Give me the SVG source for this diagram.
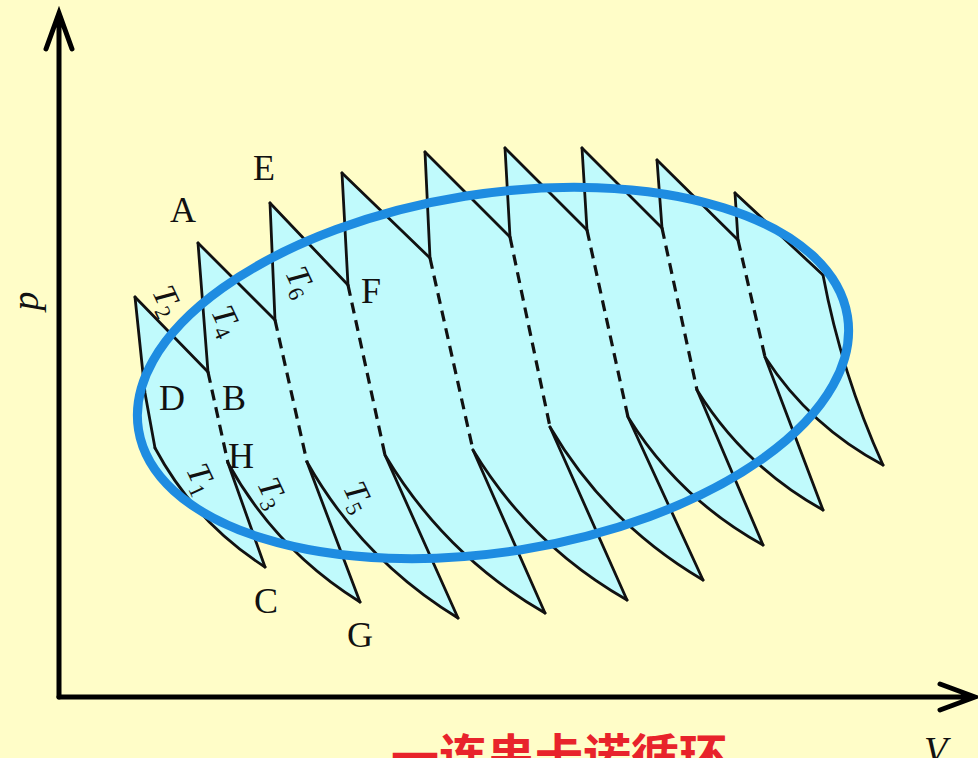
<svg xmlns="http://www.w3.org/2000/svg" width="978" height="758" viewBox="0 0 978 758">
<defs>
<style>
.bg{fill:#fffdc8}
.fill{fill:#c0fafc;stroke:none}
.ln{fill:none;stroke:#111;stroke-width:2.8;stroke-linejoin:miter;stroke-linecap:round}
.dash{fill:none;stroke:#111;stroke-width:3.2;stroke-dasharray:11 7}
.axis{fill:none;stroke:#000;stroke-width:5;stroke-linecap:round;stroke-linejoin:miter}
.ell{fill:none;stroke:#1e8ce1;stroke-width:9}
.lab{font-family:"Liberation Serif","Times New Roman",serif;font-size:36px;fill:#111}
.tl{font-family:"Liberation Serif","Times New Roman",serif;font-size:33px;font-style:italic;fill:#111}
.sub{font-size:22px;font-style:normal}
.ax{font-family:"Liberation Serif","Times New Roman",serif;font-size:38px;font-style:italic;fill:#111}
.cap{font-family:"Noto Sans CJK SC","Noto Sans CJK JP",sans-serif;font-size:48px;font-weight:bold;fill:#e8232b}
</style>
</defs>
<rect class="bg" x="0" y="0" width="978" height="758"/>

<g id="region">
<ellipse class="fill" cx="493" cy="373" rx="359" ry="179" transform="rotate(-9.1 493 373)"/>
<path class="fill" d="M135,297 L208,372 L198,243 L275,320 L270,203 L348,285 L342,173 L430,258 L425,152 L510,237 L505,148 L587,230 L582,148 L662,228 L657,160 L738,240 L735,193 L823,275 Q841.5,373.6 883,465 Q810,426.3 765,357 L823,510 Q744.4,466.4 697,390 L763,545 Q678.9,498.6 628,417 L703,580 Q606.6,523.4 550,427 L627,600 Q530.5,545 473,450 L545,613 Q444.5,554.8 385,455 L458,618 Q362.2,559.6 307,462 L360,602 Q275.9,549.7 228,463 L265,567 Q194.5,521.8 155,448 L145,393 Z"/>
</g>

<g id="cycles">
<path class="ln" d="M135,297 L208,372 M198,243 L275,320 M270,203 L348,285 M342,173 L430,258 M425,152 L510,237 M505,148 L587,230 M582,148 L662,228 M657,160 L738,240 M735,193 L823,275"/>
<path class="ln" d="M135,297 L145,393 L155,448 M198,243 L208,372 M270,203 L275,320 M342,173 L348,285 M425,152 L430,258 M505,148 L510,237 M582,148 L587,230 M657,160 L662,228 M735,193 L738,240 M823,275 Q841.5,373.6 883,465"/>
<path class="dash" d="M208,372 L228,463 M275,320 L307,462 M348,285 L385,455 M430,258 L473,450 M510,237 L550,427 M587,230 L628,417 M662,228 L697,390 M738,240 L765,357"/>
<path class="ln" d="M228,463 L265,567 M307,462 L360,602 M385,455 L458,618 M473,450 L545,613 M550,427 L627,600 M628,417 L703,580 M697,390 L763,545 M765,357 L823,510"/>
<path class="ln" d="M155,448 Q194.5,521.8 265,567 M228,463 Q275.9,549.7 360,602 M307,462 Q362.2,559.6 458,618 M385,455 Q444.5,554.8 545,613 M473,450 Q530.5,545 627,600 M550,427 Q606.6,523.4 703,580 M628,417 Q678.9,498.6 763,545 M697,390 Q744.4,466.4 823,510 M765,357 Q810,426.3 883,465"/>
</g>

<g id="cycle-ellipse">
<ellipse class="ell" cx="493" cy="373" rx="359" ry="179" transform="rotate(-9.1 493 373)"/>
</g>

<g id="axes">
<path class="axis" d="M59,697 L59,14 M46,49 L59,13 L72,49"/>
<path class="axis" d="M59,697 L974,697 M940,684 L975,697 L940,710"/>
<text class="ax" transform="translate(38,301) rotate(-90)" text-anchor="middle">p</text>
<text class="ax" x="924" y="763">V</text>
</g>

<g id="labels">
<text class="lab" x="170" y="222">A</text>
<text class="lab" x="253" y="180">E</text>
<text class="lab" x="361" y="303">F</text>
<text class="lab" x="222" y="410">B</text>
<text class="lab" x="159" y="410">D</text>
<text class="lab" x="228" y="468">H</text>
<text class="lab" x="254" y="613">C</text>
<text class="lab" x="347" y="647">G</text>
<text class="tl" transform="translate(158,305) rotate(65)" text-anchor="middle">T<tspan class="sub" dy="6">2</tspan></text>
<text class="tl" transform="translate(217,325) rotate(65)" text-anchor="middle">T<tspan class="sub" dy="6">4</tspan></text>
<text class="tl" transform="translate(291,286) rotate(65)" text-anchor="middle">T<tspan class="sub" dy="6">6</tspan></text>
<text class="tl" transform="translate(192,483) rotate(65)" text-anchor="middle">T<tspan class="sub" dy="6">1</tspan></text>
<text class="tl" transform="translate(263,497) rotate(65)" text-anchor="middle">T<tspan class="sub" dy="6">3</tspan></text>
<text class="tl" transform="translate(349,501) rotate(65)" text-anchor="middle">T<tspan class="sub" dy="6">5</tspan></text>
</g>

<text class="cap" x="391" y="774">一连串卡诺循环</text>
</svg>
